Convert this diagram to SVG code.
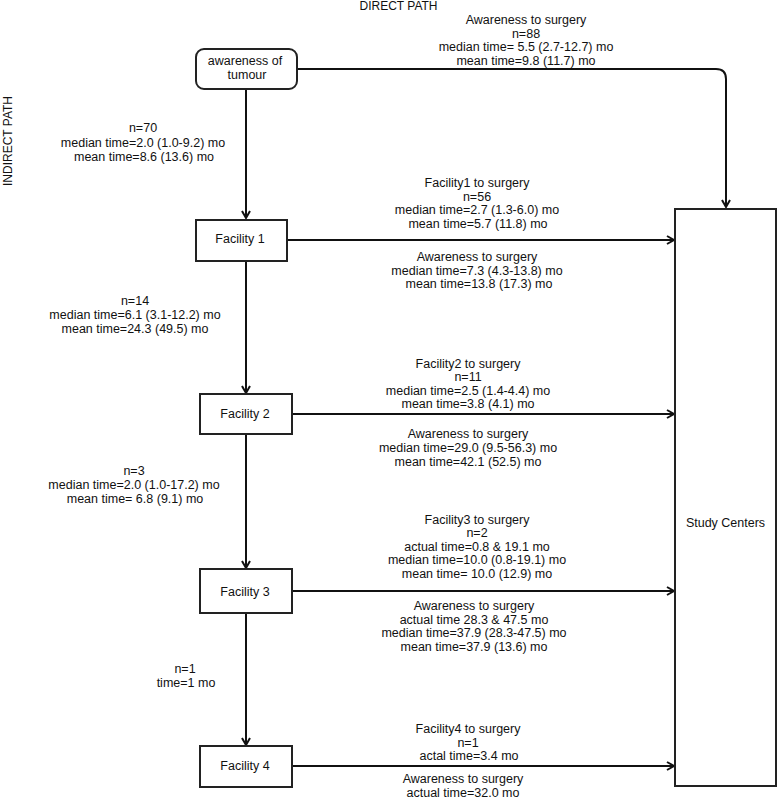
<svg xmlns="http://www.w3.org/2000/svg" width="778" height="799" viewBox="0 0 778 799">
<style>
  text { font-family: "Liberation Sans", Arial, sans-serif; font-size: 12.5px; fill: #111; text-anchor: middle; }
  .lbl { font-size: 12px; }
  .box { fill: #fff; stroke: #222; stroke-width: 2; }
  .edge { fill: none; stroke: #111; stroke-width: 2; }
</style>
<defs>
  <marker id="arr" markerUnits="userSpaceOnUse" markerWidth="12" markerHeight="12" refX="8" refY="5" orient="auto">
    <path d="M1,1 L8,5 L1,9" fill="none" stroke="#111" stroke-width="2"/>
  </marker>
</defs>
<rect width="778" height="799" fill="#fff"/>

<text class="lbl" x="398.5" y="10">DIRECT PATH</text>
<text class="lbl" transform="translate(12,141) rotate(-90)">INDIRECT PATH</text>

<g id="connectors">
  <path class="edge" d="M246,89 V218" marker-end="url(#arr)"/>
  <path class="edge" d="M246,261 V393" marker-end="url(#arr)"/>
  <path class="edge" d="M246,434 V568" marker-end="url(#arr)"/>
  <path class="edge" d="M246,613 V745" marker-end="url(#arr)"/>
  <path class="edge" d="M297,69 H716 Q726,69 726,79 V207" marker-end="url(#arr)"/>
  <path class="edge" d="M287,240 H674" marker-end="url(#arr)"/>
  <path class="edge" d="M292,414 H674" marker-end="url(#arr)"/>
  <path class="edge" d="M292,591 H674" marker-end="url(#arr)"/>
  <path class="edge" d="M292,766 H674" marker-end="url(#arr)"/>
</g>

<g id="awareness">
  <rect class="box" x="196" y="49" width="101" height="40" rx="8" stroke-width="2.5"/>
  <text x="245" y="65">awareness of</text>
  <text x="247" y="79">tumour</text>
</g>
<g id="facility1">
  <rect class="box" x="196" y="220" width="91" height="41"/>
  <text x="240" y="243">Facility 1</text>
</g>
<g id="facility2">
  <rect class="box" x="200" y="394" width="92" height="40"/>
  <text x="245" y="418">Facility 2</text>
</g>
<g id="facility3">
  <rect class="box" x="200" y="569" width="92" height="44"/>
  <text x="245" y="596">Facility 3</text>
</g>
<g id="facility4">
  <rect class="box" x="200" y="746" width="92" height="41"/>
  <text x="245" y="770">Facility 4</text>
</g>
<g id="study-centers">
  <rect class="box" x="675" y="209" width="101" height="577"/>
  <text x="725.5" y="527">Study Centers</text>
</g>

<g id="labels">
  <text x="526" y="24">Awareness to surgery</text>
  <text x="526" y="37.5">n=88</text>
  <text x="526" y="51">median time= 5.5 (2.7-12.7) mo</text>
  <text x="526" y="64.5">mean time=9.8 (11.7) mo</text>

  <text x="143" y="132">n=70</text>
  <text x="143" y="147">median time=2.0 (1.0-9.2) mo</text>
  <text x="144" y="161">mean time=8.6 (13.6) mo</text>

  <text x="477" y="187">Facility1 to surgery</text>
  <text x="477" y="200.5">n=56</text>
  <text x="477" y="214">median time=2.7 (1.3-6.0) mo</text>
  <text x="478" y="228">mean time=5.7 (11.8) mo</text>
  <text x="477" y="261">Awareness to surgery</text>
  <text x="477" y="274.5">median time=7.3 (4.3-13.8) mo</text>
  <text x="479" y="288">mean time=13.8 (17.3) mo</text>

  <text x="135" y="305">n=14</text>
  <text x="135" y="319">median time=6.1 (3.1-12.2) mo</text>
  <text x="135" y="333">mean time=24.3 (49.5) mo</text>

  <text x="468" y="368">Facility2 to surgery</text>
  <text x="468" y="381">n=11</text>
  <text x="468" y="395">median time=2.5 (1.4-4.4) mo</text>
  <text x="468" y="408">mean time=3.8 (4.1) mo</text>
  <text x="468" y="438">Awareness to surgery</text>
  <text x="468" y="452">median time=29.0 (9.5-56.3) mo</text>
  <text x="468" y="466">mean time=42.1 (52.5) mo</text>

  <text x="134" y="475">n=3</text>
  <text x="134" y="489">median time=2.0 (1.0-17.2) mo</text>
  <text x="135" y="503">mean time= 6.8 (9.1) mo</text>

  <text x="477" y="523.5">Facility3 to surgery</text>
  <text x="477" y="537">n=2</text>
  <text x="477" y="550.5">actual time=0.8 &amp; 19.1 mo</text>
  <text x="477" y="564">median time=10.0 (0.8-19.1) mo</text>
  <text x="477" y="577.5">mean time= 10.0 (12.9) mo</text>
  <text x="474" y="610">Awareness to surgery</text>
  <text x="474" y="623.5">actual time 28.3 &amp; 47.5 mo</text>
  <text x="474" y="637">median time=37.9 (28.3-47.5) mo</text>
  <text x="474" y="650.5">mean time=37.9 (13.6) mo</text>

  <text x="185" y="673">n=1</text>
  <text x="186" y="687">time=1 mo</text>

  <text x="468" y="733">Facility4 to surgery</text>
  <text x="468" y="747">n=1</text>
  <text x="469" y="760">actal time=3.4 mo</text>
  <text x="463" y="783">Awareness to surgery</text>
  <text x="463" y="797">actual time=32.0 mo</text>
</g>
</svg>
